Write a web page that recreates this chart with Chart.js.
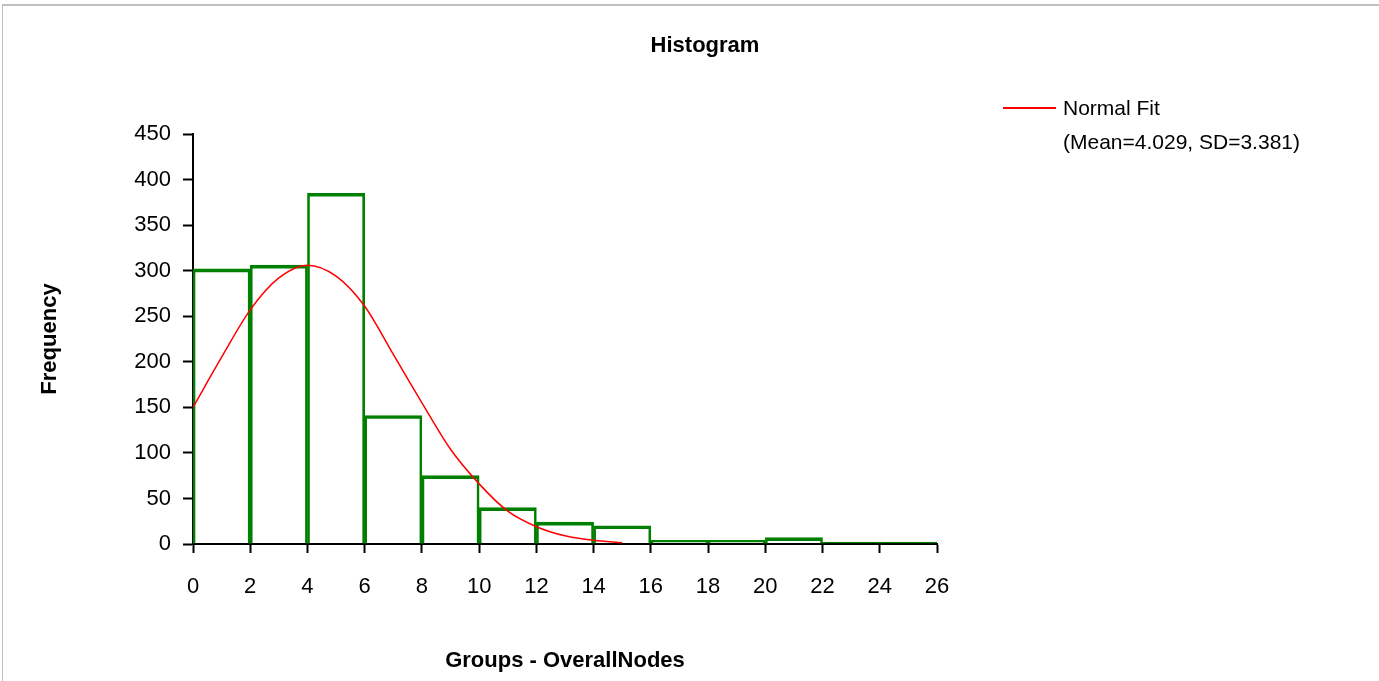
<!DOCTYPE html>
<html>
<head>
<meta charset="utf-8">
<script src="https://cdn.jsdelivr.net/npm/chart.js@4"></script>
<style>
  body { margin: 0; background: #fff; overflow: hidden; }
  #wrap { position: relative; width: 1379px; height: 681px; font-family: "Liberation Sans", Arial, sans-serif; }
  #chart { position: absolute; left: 0; top: 0; }
  .frameTop { position: absolute; left: 2px; top: 4px; width: 1377px; height: 2px; background: #c0c0c0; }
  .frameLeft { position: absolute; left: 2px; top: 4px; width: 1px; height: 677px; background: #c0c0c0; }
  #title { position: absolute; left: 555px; width: 300px; top: 30px; line-height: 30px; text-align: center; font-weight: bold; font-size: 22px; color: #000; }
  #legendLine { position: absolute; left: 1003px; top: 107px; width: 53px; height: 2px; background: #ff0000; }
  #legendText { position: absolute; left: 1063px; top: 91px; font-size: 21px; line-height: 34px; color: #000; white-space: nowrap; }
</style>
</head>
<body>
<div id="wrap">
  <canvas id="chart" width="1379" height="681"></canvas>
  <div class="frameTop"></div>
  <div class="frameLeft"></div>
  <div id="title">Histogram</div>
  <div id="legendLine"></div>
  <div id="legendText">Normal Fit<br>(Mean=4.029, SD=3.381)</div>
</div>
<script>
// histogram bins (width 2) and counts
const binStart = [0, 2, 4, 6, 8, 10, 12, 14, 16, 18, 20, 22, 24];
const binWidth = 2;
const counts = [302, 306, 385, 141, 75, 40, 24, 20, 4, 4, 7, 2, 2];

// normal fit curve (Mean=4.029, SD=3.381), values read at whole x
const fitX = [0, 1, 2, 3, 4, 5, 6, 7, 8, 9, 10, 11, 12, 13, 14, 15];
const fitY = [150, 205, 257, 292, 306, 294, 261, 208, 155, 104, 66, 36, 19, 9, 4, 1.5];

const xTicks = [0, 2, 4, 6, 8, 10, 12, 14, 16, 18, 20, 22, 24, 26];
const yTicks = [0, 50, 100, 150, 200, 250, 300, 350, 400, 450];

const font = "'Liberation Sans', Arial, sans-serif";

const ctx = document.getElementById("chart").getContext("2d");

new Chart(ctx, {
  type: "line",
  data: {
    datasets: [{
      type: "bar",
      label: "Frequency",
      data: binStart.map((b, i) => ({ x: b + binWidth / 2, y: counts[i] })),
      backgroundColor: "rgba(0,0,0,0)",
      borderColor: "#008000",
      borderWidth: { top: 3, left: 2, right: 2, bottom: 0 },
      borderSkipped: false,
      barPercentage: 1,
      categoryPercentage: 1,
      order: 2
    }, {
      type: "line",
      label: "Normal Fit",
      data: fitX.map((x, i) => ({ x: x, y: fitY[i] })),
      borderColor: "#ff0000",
      borderWidth: 1.5,
      pointRadius: 0,
      cubicInterpolationMode: "monotone",
      order: 1
    }]
  },
  options: {
    responsive: false,
    animation: false,
    devicePixelRatio: 1,
    layout: { padding: { left: 0, top: 134, right: 442, bottom: 0 } },
    plugins: {
      legend: { display: false },
      title: { display: false },
      tooltip: { enabled: false }
    },
    scales: {
      x: {
        type: "linear",
        min: 0,
        max: 26,
        offset: false,
        afterFit: s => { s.height = 137; },
        afterBuildTicks: s => { s.ticks = xTicks.map(v => ({ value: v })); },
        grid: { offset: false, drawOnChartArea: false, tickLength: 9, tickColor: "#000", tickWidth: 2 },
        border: { display: true, color: "#000", width: 2 },
        ticks: { color: "#000", font: { family: font, size: 22 }, padding: 21, maxRotation: 0 },
        title: { display: true, text: "Groups - OverallNodes", color: "#000", font: { family: font, size: 22, weight: "bold" }, padding: { top: 0, bottom: 7 } }
      },
      y: {
        min: 0,
        max: 450,
        afterFit: s => { s.width = 193; },
        afterBuildTicks: s => { s.ticks = yTicks.map(v => ({ value: v })); },
        grid: { drawOnChartArea: false, tickLength: 10, tickColor: "#000", tickWidth: 2 },
        border: { display: true, color: "#000", width: 2 },
        ticks: { color: "#000", font: { family: font, size: 22 }, padding: 12 },
        title: { display: true, text: "Frequency", color: "#000", font: { family: font, size: 22, weight: "bold" }, padding: { top: 37, bottom: 0 } }
      }
    }
  }
});
</script>
</body>
</html>
